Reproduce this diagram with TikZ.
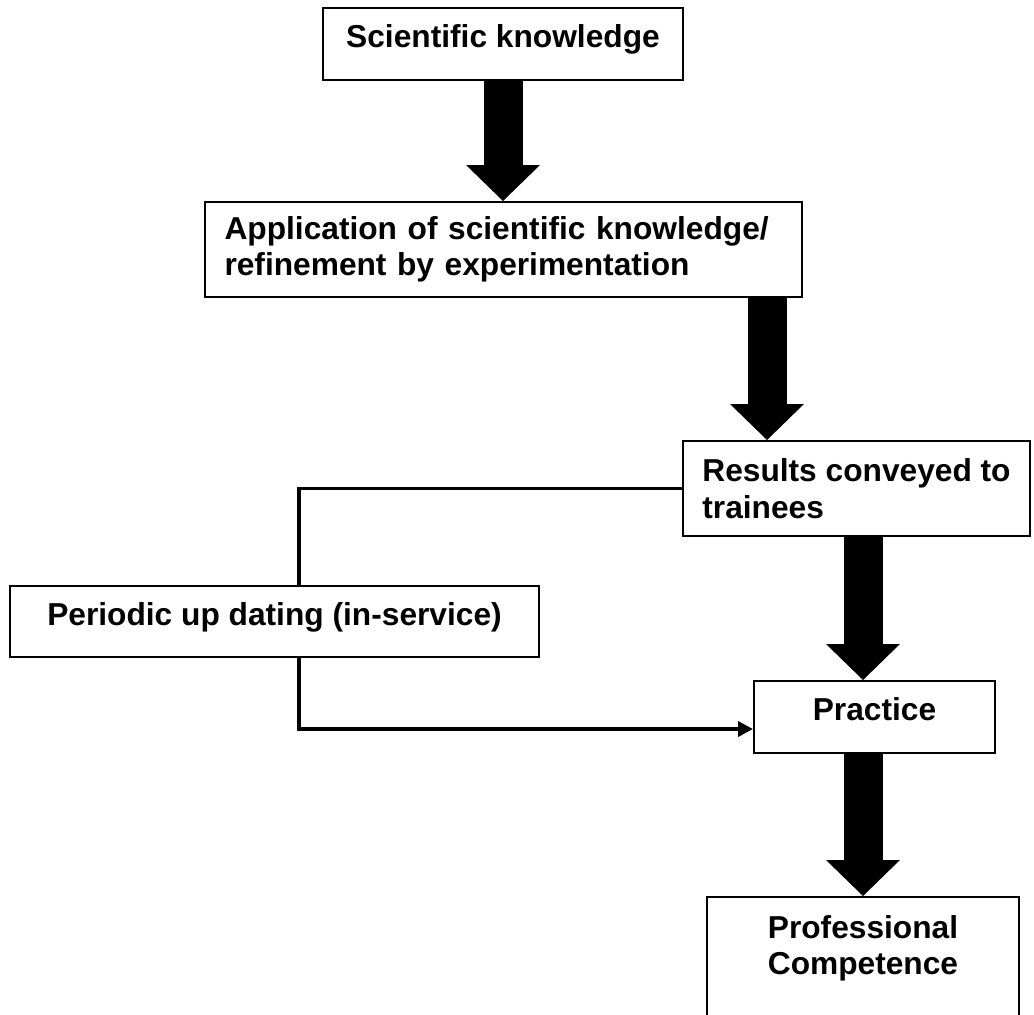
\documentclass[tikz,border=0pt]{standalone}
\usepackage{fontspec}
\setmainfont{Liberation Sans}
\usetikzlibrary{arrows.meta}

\tikzset{
  box/.style={draw, line width=2pt, inner sep=0pt, font=\bfseries\fontsize{31.7}{36.5}\selectfont},
  single/.style={text height=1em, text depth=0.22em},
  bigarrow/.style={line width=39pt, -{Triangle[width=74pt 0 0, length=36pt 0 0, line width=0pt 0 0]}},
  link/.style={line width=3.5pt},
}

\begin{document}
\begin{tikzpicture}[x=1pt, y=-1pt]
  \useasboundingbox (0,0) rectangle (1034,1015);

  % boxes
  \node[box, single, minimum width=360pt, minimum height=72pt] (sci) at (503,44) {Scientific knowledge};
  \node[box, minimum width=597pt, minimum height=95pt, text width=557pt, align=left] (app) at (503,249.5)
    {Application of scientific knowledge/\\refinement by experimentation};
  \node[box, minimum width=347pt, minimum height=95pt, align=left] (res) at (856.5,488.5)
    {Results conveyed to\\trainees};
  \node[box, single, minimum width=529pt, minimum height=71pt] (upd) at (274.5,621.5) {Periodic up dating (in-service)};
  \node[box, single, minimum width=241pt, minimum height=72pt] (prac) at (874.5,717) {Practice};
  \node[box, minimum width=312pt, minimum height=133pt, align=center] (comp) at (863,963.5)
    {Professional\\Competence\\\mbox{}};

  % block arrows
  \coordinate (col2) at (767,0);
  \draw[bigarrow] (sci) -- (app);
  \draw[bigarrow] (app.south -| col2) -- (res.north -| col2);
  \draw[bigarrow] (res.south -| comp.north) -- (prac.north -| comp.north);
  \draw[bigarrow] (prac.south -| comp.north) -- (comp.north);

  % in-service loop
  \draw[link] (res.west) -| ([xshift=24.5pt]upd.north);
  \draw[link, -{Triangle[length=15pt 0 0, width=15pt 0 0]}] ([xshift=24.5pt]upd.south) |- ([yshift=-12pt]prac.west);
\end{tikzpicture}
\end{document}
